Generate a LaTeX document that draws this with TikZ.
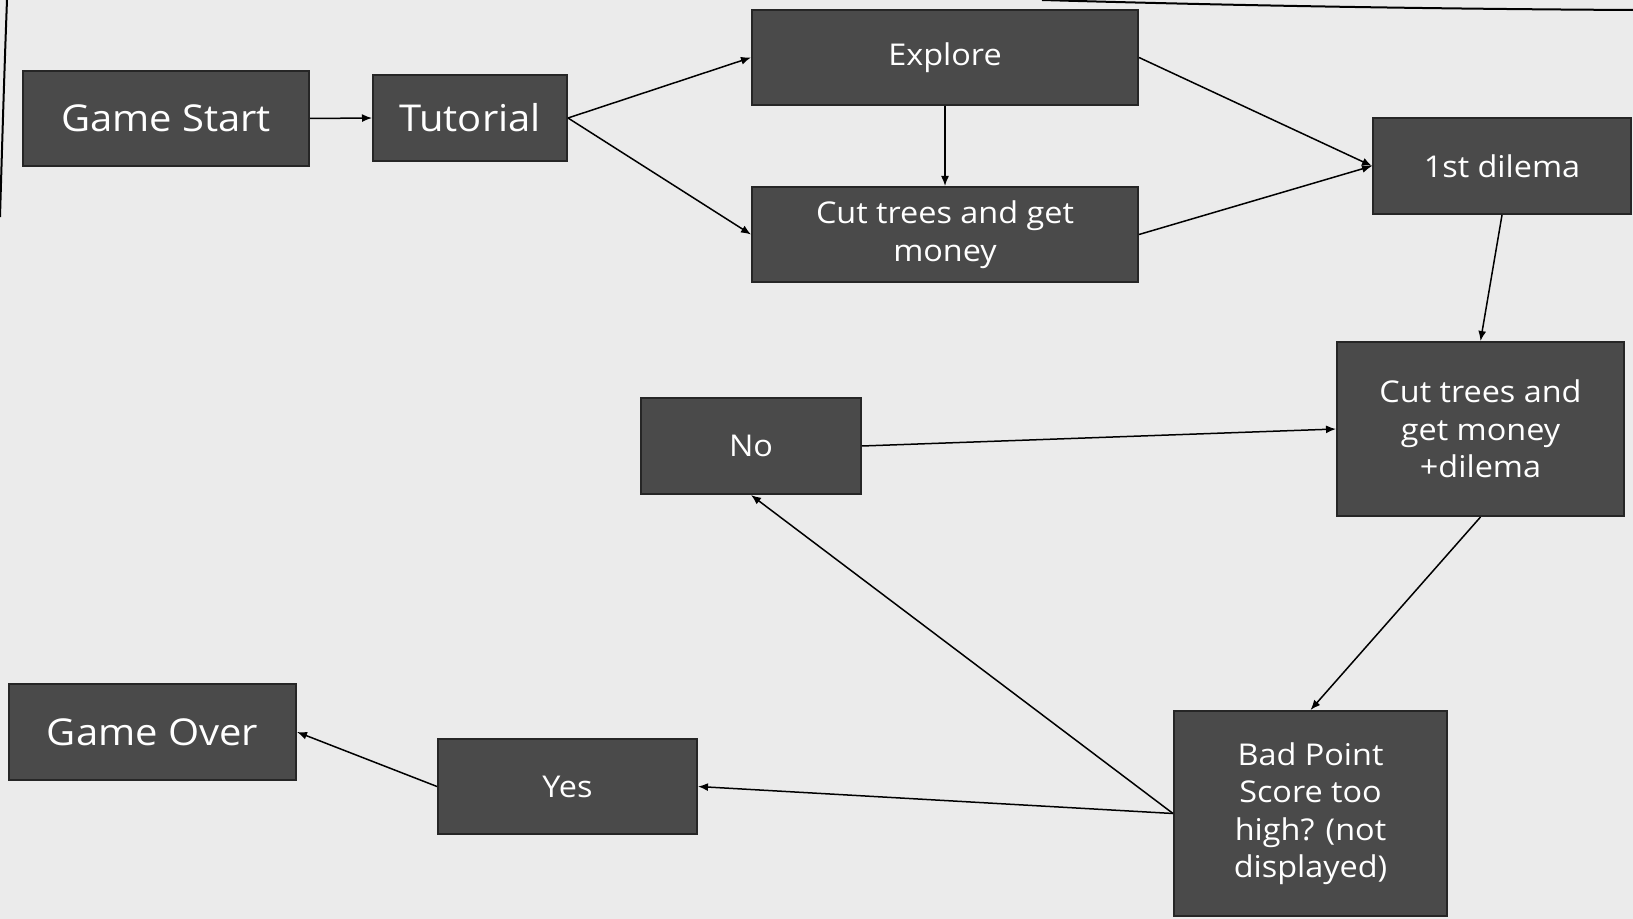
\documentclass[tikz,border=0pt]{standalone}
\usepackage{fontspec}
\setmainfont{Open Sans}[FakeStretch=1.08]
\usetikzlibrary{arrows.meta}
\definecolor{boxgray}{HTML}{4A4A4A}
\definecolor{paper}{HTML}{EBEBEB}
\begin{document}
\begin{tikzpicture}[x=0.5pt,y=-0.5pt,
    box/.style={draw=black!85,line width=1pt,fill=boxgray,text=white,align=center,
      font=\fontsize{15}{18.75}\selectfont,inner sep=0pt},
    bigbox/.style={box,font=\fontsize{18.5}{22}\selectfont},
    flow/.style={-{Latex[length=5pt,width=4pt]},line width=0.75pt}]
  \fill[paper] (0,0) rectangle (1633,919);
  \useasboundingbox (0,0) rectangle (1633,919);
  % edges of the sheet
  \draw[line width=1pt] (7,0) .. controls (4,80) and (2,150) .. (0,217);
  \draw[line width=1pt] (1042,0) .. controls (1250,6) and (1450,9) .. (1633,10);
  % boxes
  \node[bigbox,minimum width=143pt,minimum height=47.5pt] (gstart) at (166,118.5) {Game Start};
  \node[bigbox,minimum width=97pt,minimum height=43pt] (tut) at (470,118) {Tutorial};
  \node[box,minimum width=193pt,minimum height=47.5pt] (explore) at (945,57.5) {Explore};
  \node[box,minimum width=193pt,minimum height=47.5pt] (cut) at (945,234.5) {Cut trees and get\\money};
  \node[box,minimum width=129pt,minimum height=48pt] (dilema) at (1502,166) {1st dilema};
  \node[box,minimum width=143.5pt,minimum height=87pt] (cutdil) at (1480.5,429) {Cut trees and\\get money\\+dilema};
  \node[box,minimum width=110pt,minimum height=48pt] (no) at (751,446) {No};
  \node[box,minimum width=136.5pt,minimum height=102.5pt] (bad) at (1310.5,813.5) {Bad Point\\Score too\\high? (not\\displayed)};
  \node[box,minimum width=129.5pt,minimum height=47.5pt] (yes) at (567.5,786.5) {Yes};
  \node[bigbox,minimum width=143.5pt,minimum height=48pt] (gover) at (152.5,732) {Game Over};
  % arrows
  \draw[flow] (gstart.east) -- (tut.west);
  \draw[flow] (tut.east) -- (explore.west);
  \draw[flow] (tut.east) -- (cut.west);
  \draw[flow] (explore.south) -- (cut.north);
  \draw[flow] (explore.east) -- (dilema.west);
  \draw[flow] (cut.east) -- (dilema.west);
  \draw[flow] (dilema.south) -- (cutdil.north);
  \draw[flow] (no.east) -- (cutdil.west);
  \draw[flow] (cutdil.south) -- (bad.north);
  \draw[flow] (bad.west) -- (no.south);
  \draw[flow] (bad.west) -- (yes.east);
  \draw[flow] (yes.west) -- (gover.east);
\end{tikzpicture}
\end{document}
